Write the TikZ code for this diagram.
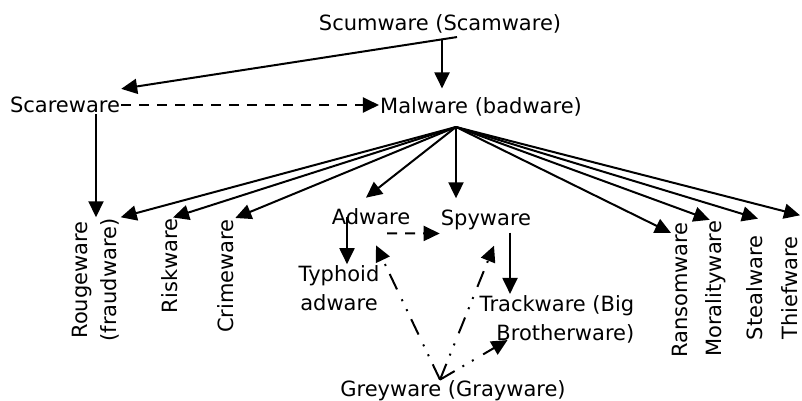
\documentclass[tikz,border=0pt]{standalone}
\usepackage{fontspec}
\setmainfont{DejaVu Sans}
\usetikzlibrary{arrows.meta}

\begin{document}
\begin{tikzpicture}[x=1pt,y=-1pt,
	arr/.style={-{Triangle[length=16pt,width=15pt]},line width=2pt},
	dasharr/.style={arr,dash pattern=on 10pt off 8pt},
	dotarr/.style={arr,dash pattern=on 17pt off 9pt on 2pt off 9pt on 2pt off 11pt},
	lbl/.style={inner sep=1pt,font=\fontsize{21}{29}\selectfont,align=center},
	vlbl/.style={lbl,rotate=90}]
	\useasboundingbox (0,0) rectangle (802,401);
	
	\node[lbl] (scum) at (440,23.5) {Scumware (Scamware)};
	\node[lbl] (scare) at (65,105) {Scareware};
	\node[lbl] (mal) at (481,107) {Malware (badware)};
	\node[vlbl] (rouge) at (96,280) {Rougeware\\(fraudware)};
	\node[vlbl] (risk) at (170,266) {Riskware};
	\node[vlbl] (crime) at (226,276) {Crimeware};
	\node[lbl] (adware) at (371,217) {Adware};
	\node[lbl] (spy) at (486,219.5) {Spyware};
	\node[lbl] (typhoid) at (339,288) {Typhoid\\adware};
	\node[lbl,align=right] (track) at (557,319) {Trackware (Big\\Brotherware)};
	\node[lbl] (grey) at (453,391) {Greyware (Grayware)};
	\node[vlbl] (ransom) at (680,290) {Ransomware};
	\node[vlbl] (moral) at (716,289) {Moralityware};
	\node[vlbl] (steal) at (755,288) {Stealware};
	\node[vlbl] (thief) at (790,288) {Thiefware};
	
	\coordinate (scumfoot) at ([xshift=17pt,yshift=-3pt]scum.south);
	\coordinate (malfoot) at (456,127);
	\coordinate (apex) at ([xshift=-13pt]grey.north);
	
	\draw[arr] (scumfoot) -- ([yshift=7pt]scare.north east);
	\draw[arr] ([xshift=2pt,yshift=-5pt]scum.south) -- ([xshift=-39pt,yshift=8pt]mal.north);
	\draw[dasharr] (scare.east) -- (scare.east -| mal.west);
	\draw[arr] (scare.south -| rouge.east) -- (rouge.east);
	
	\foreach \t/\sx/\sy in {rouge.south east/0/0, risk.east/3/0, crime.south east/0/0, adware.north/-5/10, spy.north/-30/10, ransom.north east/0/-12, moral.north east/5/0, steal.east/3/16, thief.east/10/20}
	{
		\draw[arr] (malfoot) -- ([xshift=\sx pt,yshift=\sy pt]\t);
	}
	
	\draw[arr] ([xshift=-24pt]adware.center) -- ([xshift=8pt]typhoid.north);
	\draw[dasharr] ([xshift=16pt,yshift=-7pt]adware.south) -- ([yshift=-14pt]spy.west);
	\draw[arr] ([xshift=24pt,yshift=-2pt]spy.south) -- ([xshift=-47pt]track.north);
	
	\draw[dotarr] (apex) -- ([xshift=5pt,yshift=-19pt]adware.south);
	\draw[dotarr] (apex) -- ([xshift=8pt,yshift=-15pt]spy.south);
	\draw[dotarr] (apex) -- ([xshift=29pt,yshift=4pt]track.south west);
	
\end{tikzpicture}
\end{document}
